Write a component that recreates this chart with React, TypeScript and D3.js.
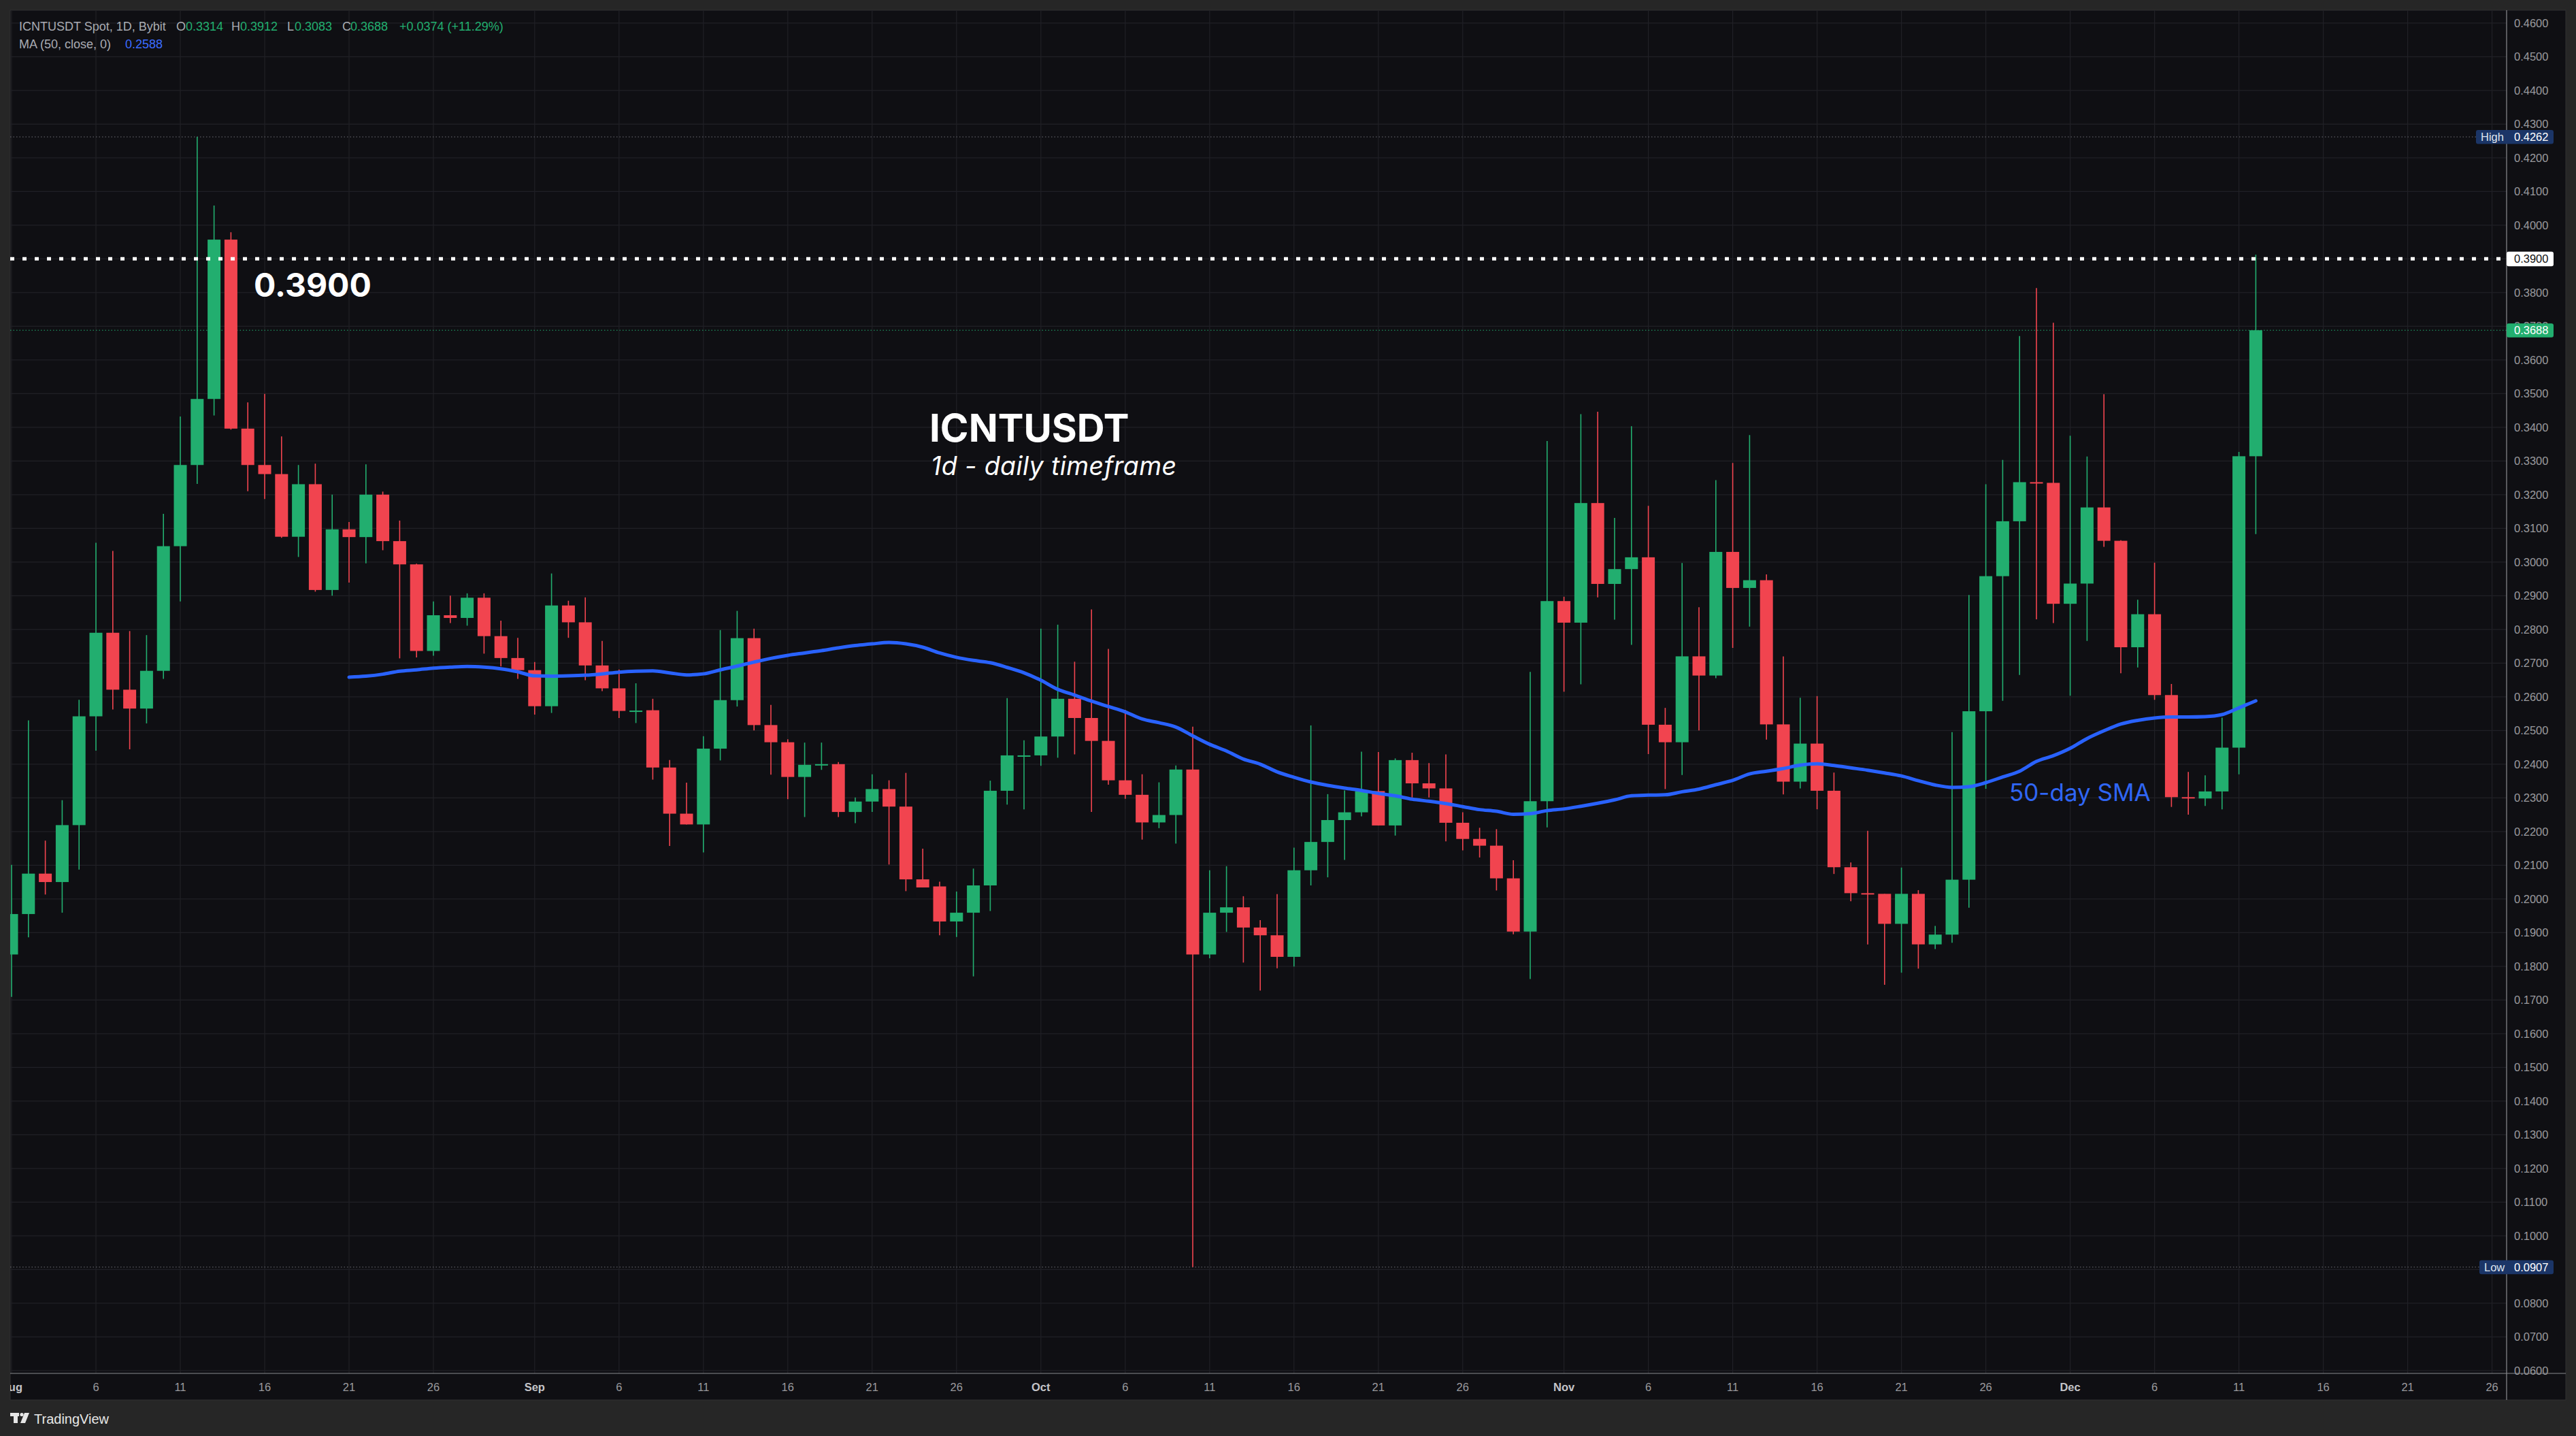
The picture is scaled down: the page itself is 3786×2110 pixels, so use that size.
import React from "react";
import * as d3 from "d3";

// ---- DATA ----
const startDate = "2025-08-01";
const opens = [
  0.1835, 0.1955, 0.2075, 0.205, 0.2219, 0.2542, 0.279, 0.2621, 0.2565, 0.2677,
  0.3047, 0.3288, 0.3484, 0.3957, 0.3396, 0.3288, 0.3261, 0.3075, 0.3231, 0.2917,
  0.3097, 0.3074, 0.32, 0.3062, 0.2993, 0.2736, 0.2842, 0.2834, 0.2894, 0.278,
  0.2715, 0.2679, 0.2572, 0.2871, 0.2821, 0.2693, 0.2625, 0.2558, 0.256, 0.239,
  0.2253, 0.2221, 0.2446, 0.259, 0.2774, 0.2516, 0.2465, 0.2362, 0.2398, 0.24,
  0.2258, 0.2289, 0.2326, 0.2274, 0.2058, 0.2037, 0.1933, 0.1959, 0.204, 0.2321,
  0.2426, 0.2426, 0.2482, 0.2594, 0.2537, 0.2469, 0.2352, 0.2309, 0.2227, 0.2249,
  0.2384, 0.1835, 0.1959, 0.1975, 0.1915, 0.1892, 0.1828, 0.2085, 0.2169, 0.2234,
  0.2257, 0.232, 0.2218, 0.2412, 0.2343, 0.2328, 0.2226, 0.2178, 0.2158, 0.2061,
  0.1903, 0.229, 0.2884, 0.282, 0.3175, 0.2935, 0.2979, 0.3014, 0.2517, 0.2465,
  0.272, 0.2663, 0.303, 0.2923, 0.2946, 0.2518, 0.2348, 0.2461, 0.2321, 0.2094,
  0.2017, 0.2015, 0.1926, 0.2015, 0.1865, 0.1894, 0.2057, 0.2557, 0.2958, 0.3121,
  0.3237, 0.3235, 0.2876, 0.2936, 0.3162, 0.3063, 0.2747, 0.2845, 0.2605, 0.2302,
  0.2298, 0.2319, 0.2449, 0.3314,
];
const highs = [
  0.2101, 0.253, 0.2173, 0.2293, 0.2591, 0.3057, 0.3033, 0.2795, 0.2783, 0.3143,
  0.3432, 0.4262, 0.4058, 0.3979, 0.3474, 0.3499, 0.3373, 0.3288, 0.3292, 0.32,
  0.3119, 0.329, 0.3209, 0.3123, 0.2995, 0.2883, 0.29, 0.2907, 0.2907, 0.2826,
  0.2775, 0.2703, 0.2966, 0.2885, 0.2895, 0.2766, 0.2681, 0.264, 0.2594, 0.2412,
  0.2345, 0.2483, 0.2798, 0.2855, 0.2802, 0.2576, 0.2474, 0.2464, 0.2464, 0.2406,
  0.2301, 0.237, 0.2352, 0.2374, 0.2149, 0.2051, 0.2022, 0.209, 0.2351, 0.2596,
  0.2471, 0.2802, 0.2814, 0.2704, 0.2859, 0.2742, 0.2561, 0.237, 0.2346, 0.2396,
  0.2511, 0.2085, 0.2097, 0.2008, 0.1937, 0.2014, 0.2152, 0.2515, 0.2311, 0.2322,
  0.2437, 0.2436, 0.2417, 0.2434, 0.2403, 0.2429, 0.2257, 0.2211, 0.2207, 0.2115,
  0.2674, 0.3359, 0.2897, 0.3439, 0.3446, 0.3131, 0.3403, 0.3167, 0.2567, 0.2997,
  0.2866, 0.3243, 0.3294, 0.3377, 0.2963, 0.272, 0.2597, 0.2602, 0.2375, 0.2108,
  0.2202, 0.2015, 0.2093, 0.2026, 0.192, 0.2495, 0.2902, 0.3231, 0.3303, 0.3671,
  0.3813, 0.371, 0.3375, 0.3313, 0.3498, 0.3065, 0.2888, 0.2998, 0.2638, 0.2377,
  0.2367, 0.2538, 0.3327, 0.3912,
];
const lows = [
  0.1709, 0.1886, 0.2013, 0.1959, 0.2087, 0.244, 0.2562, 0.2444, 0.2521, 0.2653,
  0.2883, 0.3232, 0.3435, 0.3393, 0.321, 0.3187, 0.3072, 0.3015, 0.2912, 0.29,
  0.2939, 0.2996, 0.3035, 0.2714, 0.2717, 0.2722, 0.2819, 0.2811, 0.2728, 0.269,
  0.2653, 0.2547, 0.2552, 0.2775, 0.2649, 0.2617, 0.2537, 0.2522, 0.2354, 0.2157,
  0.2221, 0.2138, 0.2411, 0.2571, 0.25, 0.2369, 0.2296, 0.2243, 0.2383, 0.2243,
  0.2225, 0.2258, 0.2102, 0.2023, 0.2034, 0.1892, 0.1887, 0.177, 0.1964, 0.228,
  0.2266, 0.2395, 0.2419, 0.2429, 0.2258, 0.2339, 0.2297, 0.2176, 0.221, 0.2164,
  0.0907, 0.1824, 0.1902, 0.1811, 0.1728, 0.1794, 0.1799, 0.204, 0.2064, 0.2116,
  0.2245, 0.2218, 0.2188, 0.2301, 0.2301, 0.2171, 0.2144, 0.2123, 0.2025, 0.1895,
  0.1762, 0.2212, 0.2615, 0.2637, 0.2895, 0.2829, 0.2754, 0.243, 0.2326, 0.2368,
  0.25, 0.2655, 0.2745, 0.2808, 0.2473, 0.231, 0.2328, 0.2266, 0.2074, 0.1993,
  0.1865, 0.1745, 0.1781, 0.1793, 0.1851, 0.187, 0.1974, 0.2327, 0.2588, 0.2665,
  0.283, 0.2819, 0.2603, 0.2766, 0.3045, 0.267, 0.2687, 0.2591, 0.2273, 0.225,
  0.2276, 0.2266, 0.237, 0.3083,
];
const closes = [
  0.1955, 0.2075, 0.205, 0.2219, 0.2542, 0.279, 0.2621, 0.2565, 0.2677, 0.3047,
  0.3288, 0.3484, 0.3957, 0.3396, 0.3288, 0.3261, 0.3075, 0.3231, 0.2917, 0.3097,
  0.3074, 0.32, 0.3062, 0.2993, 0.2736, 0.2842, 0.2834, 0.2894, 0.278, 0.2715,
  0.2679, 0.2572, 0.2871, 0.2821, 0.2693, 0.2625, 0.2558, 0.2559, 0.239, 0.2253,
  0.2221, 0.2446, 0.259, 0.2774, 0.2516, 0.2465, 0.2362, 0.2398, 0.24, 0.2258,
  0.2289, 0.2326, 0.2274, 0.2058, 0.2034, 0.1933, 0.1959, 0.204, 0.2321, 0.2426,
  0.2426, 0.2482, 0.2594, 0.2537, 0.2469, 0.2352, 0.2309, 0.2227, 0.2249, 0.2384,
  0.1835, 0.1959, 0.1975, 0.1915, 0.1892, 0.1828, 0.2085, 0.2169, 0.2234, 0.2257,
  0.232, 0.2218, 0.2412, 0.2343, 0.2328, 0.2226, 0.2178, 0.2158, 0.2061, 0.1903,
  0.229, 0.2884, 0.282, 0.3175, 0.2935, 0.2979, 0.3014, 0.2517, 0.2465, 0.272,
  0.2663, 0.303, 0.2923, 0.2946, 0.2518, 0.2348, 0.2461, 0.2321, 0.2094, 0.2017,
  0.2015, 0.1926, 0.2015, 0.1865, 0.1894, 0.2057, 0.2557, 0.2958, 0.3121, 0.3237,
  0.3235, 0.2876, 0.2936, 0.3162, 0.3063, 0.2747, 0.2845, 0.2605, 0.2302, 0.2298,
  0.2319, 0.2449, 0.3314, 0.3688,
];
const maStartIndex = 20;
const maValues = [
  0.2658, 0.2661, 0.2667, 0.2676, 0.268, 0.2685, 0.2688, 0.269, 0.2688, 0.2683,
  0.2674, 0.2662, 0.2661, 0.2662, 0.2664, 0.2668, 0.2673, 0.2676, 0.2677, 0.2671,
  0.2665, 0.2668, 0.268, 0.2691, 0.2703, 0.2714, 0.2723, 0.273, 0.2737, 0.2745,
  0.2752, 0.2757, 0.2761, 0.2757, 0.2747, 0.273, 0.2717, 0.2708, 0.2701, 0.2687,
  0.2671, 0.2649, 0.2622, 0.2605, 0.2587, 0.2571, 0.2555, 0.2534, 0.2523, 0.251,
  0.2484, 0.2459, 0.2439, 0.2415, 0.24, 0.2377, 0.2361, 0.2347, 0.2337, 0.2329,
  0.2322, 0.2313, 0.2306, 0.2296, 0.229, 0.2283, 0.2274, 0.2265, 0.226, 0.2251,
  0.2253, 0.2262, 0.2267, 0.2275, 0.2284, 0.2294, 0.2306, 0.2308, 0.2309, 0.2318,
  0.2326, 0.2339, 0.2352, 0.2371, 0.2379, 0.2387, 0.2397, 0.2401, 0.2396, 0.2389,
  0.2382, 0.2374, 0.2365, 0.2351, 0.2338, 0.2331, 0.2333, 0.2345, 0.2362, 0.2379,
  0.2408, 0.2425, 0.2447, 0.2476, 0.2499, 0.2519, 0.253, 0.2537, 0.254, 0.254,
  0.2541, 0.2547, 0.2567, 0.2588,
];
const tickDates = [
  "2025-08-01", "2025-08-06", "2025-08-11", "2025-08-16", "2025-08-21", "2025-08-26",
  "2025-09-01", "2025-09-06", "2025-09-11", "2025-09-16", "2025-09-21", "2025-09-26",
  "2025-10-01", "2025-10-06", "2025-10-11", "2025-10-16", "2025-10-21", "2025-10-26",
  "2025-11-01", "2025-11-06", "2025-11-11", "2025-11-16", "2025-11-21", "2025-11-26",
  "2025-12-01", "2025-12-06", "2025-12-11", "2025-12-16", "2025-12-21", "2025-12-26",
];
const tickLabels = [
  "Aug", "6", "11", "16", "21", "26", "Sep", "6", "11", "16", "21", "26",
  "Oct", "6", "11", "16", "21", "26", "Nov", "6", "11", "16", "21", "26",
  "Dec", "6", "11", "16", "21", "26",
];
const priceTicks = [
  0.06, 0.07, 0.08, 0.09, 0.1, 0.11, 0.12, 0.13, 0.14, 0.15, 0.16, 0.17, 0.18, 0.19,
  0.2, 0.21, 0.22, 0.23, 0.24, 0.25, 0.26, 0.27, 0.28, 0.29, 0.3, 0.31, 0.32, 0.33,
  0.34, 0.35, 0.36, 0.37, 0.38, 0.39, 0.4, 0.41, 0.42, 0.43, 0.44, 0.45, 0.46,
];
const levelPrice = 0.39;
const allHigh = 0.4262;
const allLow = 0.0907;
const lastClose = 0.3688;
const lastMA = 0.2588;

const UP = "#22ae6f";
const DOWN = "#f1444f";
const MA_COLOR = "#2962ff";
const BG = "#0f0f13";
const OUTER = "#262626";
const GRID = "#202026";
const AXIS_TXT = "#9a9a9e";
const SANS = "'Liberation Sans', Arial, sans-serif";
const INTER = "Inter, 'Noto Sans', sans-serif";

export default function App() {
  const W = 3786;
  const H = 2110;
  const plotL = 15, plotR = 3684, plotT = 15, plotB = 2018;
  const panelR = 3771, panelB = 2057;

  const parse = d3.utcParse("%Y-%m-%d");
  const start = parse(startDate) as Date;
  const x = d3
    .scaleUtc()
    .domain([start, d3.utcDay.offset(start, 147)])
    .range([17, 17 + 147 * 24.8]);
  const y = d3.scaleLinear().domain([0.06, 0.46]).range([2013.8, 33.8]);
  const dateAt = (i: number) => d3.utcDay.offset(start, i);

  const bodyW = 19;
  const candles = closes.map((c, i) => {
    const o = opens[i];
    const up = c >= o;
    const cx = x(dateAt(i));
    const top = y(Math.max(o, c));
    const bot = y(Math.min(o, c));
    return { i, cx, up, top, h: Math.max(2, bot - top), hi: y(highs[i]), lo: y(lows[i]) };
  });

  const maLine = d3
    .line<number>()
    .x((_, k) => x(dateAt(maStartIndex + k)))
    .y((v) => y(v))
    .curve(d3.curveMonotoneX)(maValues) as string;

  const fmt = d3.format(".4f");
  const yLevel = y(levelPrice);

  return (
    <svg
      width={W}
      height={H}
      style={{ position: "absolute", left: 0, top: 0, display: "block" }}
    >
      <defs>
        <clipPath id="plot">
          <rect x={plotL} y={plotT} width={plotR - plotL} height={plotB - plotT} />
        </clipPath>
        <clipPath id="xaxis">
          <rect x={plotL} y={plotB} width={plotR - plotL} height={panelB - plotB} />
        </clipPath>
      </defs>
      <rect x={0} y={0} width={W} height={H} fill={OUTER} />
      <rect x={plotL} y={plotT} width={panelR - plotL} height={panelB - plotT} fill={BG} stroke="#303033" strokeWidth={1} />

      {/* grid */}
      <g clipPath="url(#plot)">
        {priceTicks.map((p) => (
          <line key={"h" + p} x1={plotL} x2={plotR} y1={y(p)} y2={y(p)} stroke={GRID} strokeWidth={1.2} />
        ))}
        {tickDates.map((d) => {
          const xx = x(parse(d) as Date);
          return <line key={"v" + d} x1={xx} x2={xx} y1={plotT} y2={plotB} stroke={GRID} strokeWidth={1.2} />;
        })}
      </g>

      {/* high / low / last price guide lines */}
      <line x1={plotL} x2={3639} y1={y(allHigh)} y2={y(allHigh)} stroke="#6f7076" strokeWidth={1} strokeDasharray="1.5 3" />
      <line x1={plotL} x2={3644} y1={y(allLow)} y2={y(allLow)} stroke="#6f7076" strokeWidth={1} strokeDasharray="1.5 3" />
      <line x1={plotL} x2={plotR} y1={y(lastClose)} y2={y(lastClose)} stroke={UP} strokeWidth={1} strokeDasharray="1.5 3" />

      {/* candles */}
      <g clipPath="url(#plot)">
        {candles.map((c) => (
          <g key={c.i}>
            <line x1={c.cx} x2={c.cx} y1={c.hi} y2={c.lo} stroke={c.up ? UP : DOWN} strokeWidth={1.6} />
            <rect x={c.cx - bodyW / 2} y={c.top} width={bodyW} height={c.h} fill={c.up ? UP : DOWN} />
          </g>
        ))}
        <path d={maLine} fill="none" stroke={MA_COLOR} strokeWidth={5} strokeLinejoin="round" strokeLinecap="round" />
      </g>

      {/* 0.39 level */}
      <line x1={plotL} x2={plotR} y1={yLevel} y2={yLevel} stroke="#ffffff" strokeWidth={5} strokeDasharray="6 12" />

      {/* annotations */}
      <text x={373} y={436} fill="#ffffff" fontFamily={INTER} fontWeight={700} fontSize={48}>
        {fmt(levelPrice)}
      </text>
      <text x={1366} y={649} fill="#ffffff" fontFamily={INTER} fontWeight={700} fontSize={56.5}>
        ICNTUSDT
      </text>
      <text x={1368} y={698} fill="#ffffff" fontFamily={INTER} fontStyle="italic" fontSize={37.5} letterSpacing={0.4}>
        1d - daily timeframe
      </text>
      <text x={2953} y={1177} fill="#2f66f5" fontFamily={INTER} fontSize={35}>
        50-day SMA
      </text>

      {/* legend */}
      <g fontFamily={SANS} fontSize={18}>
        <text x={28} y={45} fill="#a9abb2">ICNTUSDT Spot, 1D, Bybit</text>
        <text x={259} y={45} fill="#a9abb2">O</text>
        <text x={273} y={45} fill={UP}>{fmt(opens[opens.length - 1])}</text>
        <text x={340} y={45} fill="#a9abb2">H</text>
        <text x={353} y={45} fill={UP}>{fmt(highs[highs.length - 1])}</text>
        <text x={422} y={45} fill="#a9abb2">L</text>
        <text x={433} y={45} fill={UP}>{fmt(lows[lows.length - 1])}</text>
        <text x={503} y={45} fill="#a9abb2">C</text>
        <text x={515} y={45} fill={UP}>{fmt(closes[closes.length - 1])}</text>
        <text x={587} y={45} fill={UP}>+0.0374 (+11.29%)</text>
        <text x={28} y={71} fill="#a9abb2">MA (50, close, 0)</text>
        <text x={184} y={71} fill="#3b6cff">{fmt(lastMA)}</text>
      </g>

      {/* price axis */}
      <g fontFamily={SANS} fontSize={16.5} fill={AXIS_TXT}>
        {priceTicks.map((p) => (
          <text key={"t" + p} x={3695} y={y(p)} dy="0.36em">
            {fmt(p)}
          </text>
        ))}
      </g>
      <line x1={plotR} x2={plotR} y1={plotT} y2={panelB} stroke="#8a8b90" strokeWidth={1.2} />
      <line x1={plotL} x2={panelR} y1={plotB} y2={plotB} stroke="#8a8b90" strokeWidth={1.2} />

      {/* axis badges */}
      <rect x={3639} y={y(allHigh) - 10} width={114} height={20.5} rx={3} fill="#1b3567" />
      <text x={3646} y={y(allHigh)} dy="0.36em" fontFamily={SANS} fontSize={16.5} fill="#dfe4ee">High</text>
      <text x={3695} y={y(allHigh)} dy="0.36em" fontFamily={SANS} fontSize={16.5} fill="#ffffff">{fmt(allHigh)}</text>

      <rect x={3644} y={y(allLow) - 10} width={109} height={20.5} rx={3} fill="#1b3567" />
      <text x={3651} y={y(allLow)} dy="0.36em" fontFamily={SANS} fontSize={16.5} fill="#dfe4ee">Low</text>
      <text x={3695} y={y(allLow)} dy="0.36em" fontFamily={SANS} fontSize={16.5} fill="#ffffff">{fmt(allLow)}</text>

      <rect x={plotR} y={yLevel - 10.5} width={69} height={21.5} rx={3} fill="#ffffff" />
      <text x={3695} y={yLevel} dy="0.36em" fontFamily={SANS} fontSize={16.5} fill="#111111">{fmt(levelPrice)}</text>

      <rect x={plotR} y={y(lastClose) - 10} width={69} height={20.5} rx={3} fill={UP} />
      <text x={3695} y={y(lastClose)} dy="0.36em" fontFamily={SANS} fontSize={16.5} fill="#ffffff">{fmt(lastClose)}</text>

      {/* time axis */}
      <g clipPath="url(#xaxis)" fontFamily={SANS} fontSize={16.5}>
        {tickDates.map((d, k) => {
          const isMonth = isNaN(Number(tickLabels[k]));
          return (
            <text
              key={"x" + d}
              x={x(parse(d) as Date)}
              y={2038}
              dy="0.36em"
              textAnchor="middle"
              fill={isMonth ? "#c4c4c8" : AXIS_TXT}
              fontWeight={isMonth ? 700 : 400}
            >
              {tickLabels[k]}
            </text>
          );
        })}
      </g>

      {/* TradingView logo */}
      <g fill="#e6e6e6">
        <rect x={15} y={2076} width={13} height={5} />
        <rect x={20} y={2076} width={6} height={15} />
        <circle cx={32} cy={2078.5} r={2.6} />
        <polygon points="36,2076 43,2076 37,2091 30,2091" />
        <text x={50} y={2092} fontFamily={SANS} fontSize={20}>TradingView</text>
      </g>
    </svg>
  );
}
